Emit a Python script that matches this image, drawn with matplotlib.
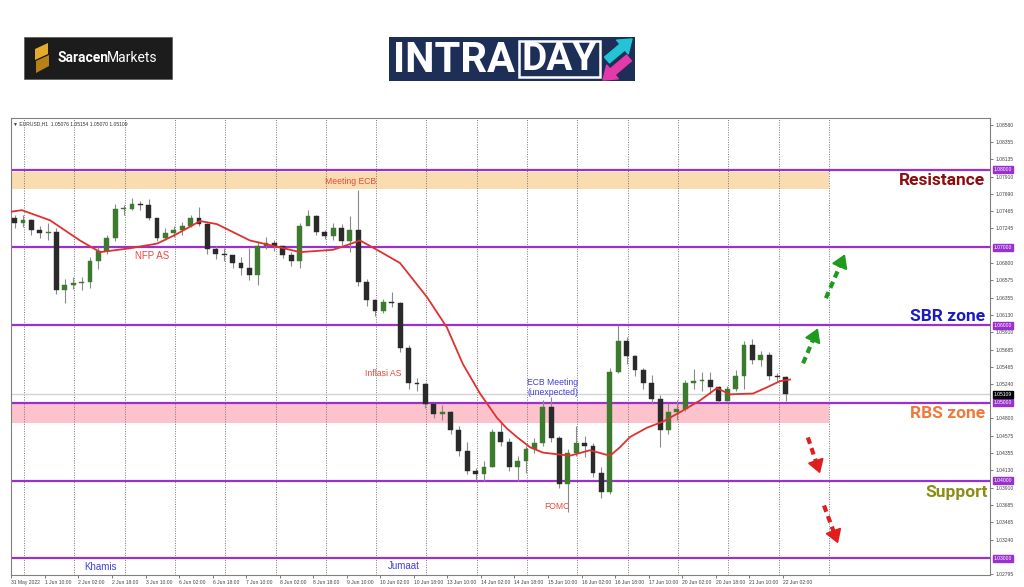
import matplotlib
matplotlib.use("Agg")
import matplotlib.pyplot as plt
import matplotlib.transforms as mtransforms
from matplotlib.patches import Rectangle, Polygon

# bar index counts hourly bars, 1 Jun 00:00 = 0, first candle starts 31 May 18:00
first_bar = -6
bars_per_candle = 4
first_open = 1.0738
closes = [1.0732, 1.0735, 1.0722, 1.0718, 1.0720, 1.0645, 1.0652, 1.0654, 1.0655, 1.0682,
          1.0695, 1.0712, 1.0750, 1.0750, 1.0756, 1.0755, 1.0738, 1.0712, 1.0718, 1.0722,
          1.0728, 1.0738, 1.0730, 1.0698, 1.0692, 1.0690, 1.0680, 1.0674, 1.0665, 1.0702,
          1.0706, 1.0702, 1.0690, 1.0682, 1.0728, 1.0740, 1.0720, 1.0715, 1.0725, 1.0708,
          1.0722, 1.0655, 1.0632, 1.0618, 1.0630, 1.0628, 1.0570, 1.0525, 1.0524, 1.0498,
          1.0486, 1.0488, 1.0465, 1.0438, 1.0412, 1.0408, 1.0418, 1.0462, 1.0450, 1.0418,
          1.0425, 1.0440, 1.0448, 1.0495, 1.0455, 1.0395, 1.0435, 1.0448, 1.0445, 1.0410,
          1.0385, 1.0540, 1.0580, 1.0560, 1.0542, 1.0525, 1.0505, 1.0465, 1.0488, 1.0492,
          1.0525, 1.0528, 1.0530, 1.0520, 1.0503, 1.0518, 1.0535, 1.0575, 1.0555, 1.0562,
          1.0535, 1.0533, 1.05109]
highs = [1.0742, 1.0742, 1.0737, 1.0728, 1.0732, 1.0725, 1.0660, 1.0662, 1.0662, 1.0688,
         1.0700, 1.0716, 1.0756, 1.0755, 1.0764, 1.0760, 1.0762, 1.0738, 1.0725, 1.0727,
         1.0733, 1.0742, 1.0752, 1.0732, 1.0702, 1.0699, 1.0690, 1.0688, 1.0699, 1.0708,
         1.0713, 1.0710, 1.0702, 1.0694, 1.0732, 1.0748, 1.0742, 1.0722, 1.0732, 1.0730,
         1.0740, 1.0774, 1.0660, 1.0634, 1.0634, 1.0643, 1.0630, 1.0575, 1.0532, 1.0525,
         1.0500, 1.0497, 1.0490, 1.0470, 1.0450, 1.0416, 1.0425, 1.0467, 1.0474, 1.0455,
         1.0432, 1.0445, 1.0455, 1.0504, 1.0508, 1.0458, 1.0440, 1.0470, 1.0458, 1.0448,
         1.0418, 1.0545, 1.0600, 1.0585, 1.0562, 1.0545, 1.0536, 1.0510, 1.0500, 1.0504,
         1.0530, 1.0543, 1.0540, 1.0540, 1.0522, 1.0522, 1.0542, 1.0580, 1.0582, 1.0567,
         1.0565, 1.0538, 1.0535]
lows = [1.0725, 1.0726, 1.0716, 1.0712, 1.0710, 1.0640, 1.0628, 1.0646, 1.0645, 1.0648,
        1.0672, 1.0692, 1.0708, 1.0742, 1.0748, 1.0748, 1.0735, 1.0708, 1.0710, 1.0713,
        1.0716, 1.0726, 1.0728, 1.0692, 1.0685, 1.0683, 1.0674, 1.0665, 1.0658, 1.0652,
        1.0698, 1.0696, 1.0686, 1.0676, 1.0673, 1.0730, 1.0716, 1.0711, 1.0710, 1.0703,
        1.0694, 1.0650, 1.0625, 1.0612, 1.0616, 1.0624, 1.0565, 1.0518, 1.0515, 1.0494,
        1.0480, 1.0478, 1.0460, 1.0432, 1.0408, 1.0401, 1.0400, 1.0418, 1.0445, 1.0412,
        1.0400, 1.0410, 1.0435, 1.0445, 1.0450, 1.0390, 1.0360, 1.0432, 1.0430, 1.0405,
        1.0378, 1.0383, 1.0538, 1.0550, 1.0535, 1.0518, 1.0498, 1.0443, 1.0460, 1.0478,
        1.0490, 1.0518, 1.0515, 1.0512, 1.0500, 1.0502, 1.0515, 1.0518, 1.0550, 1.0548,
        1.0530, 1.0528, 1.0503]
opens = [first_open] + closes[:-1]

# red moving average (hourly bar index, price)
ma_bar = [-6.2, -1.0, 12.4, 26.7, 36.3, 50.6, 63.5, 72.0, 84.0, 92.1, 107.8, 120.7, 131.7,
          147.4, 154.1, 160.3, 168.4, 179.4, 192.3, 201.8, 209.4, 217.6, 225.6, 230.4, 235.2,
          241.4, 247.6, 260.5, 270.0, 279.6, 284.4, 289.1, 297.2, 304.9, 313.0, 322.5, 330.6,
          336.8, 347.8, 354.5, 360.7, 365.5]
ma_val = [1.0746, 1.0748, 1.0735, 1.0709, 1.0694, 1.0699, 1.0705, 1.0716, 1.0734, 1.0730,
          1.0709, 1.0701, 1.0694, 1.0697, 1.0703, 1.0709, 1.0697, 1.0680, 1.0636, 1.0597,
          1.0550, 1.0512, 1.0481, 1.0467, 1.0456, 1.0443, 1.0436, 1.0432, 1.0439, 1.0432,
          1.0443, 1.0456, 1.0468, 1.0476, 1.0488, 1.0503, 1.0519, 1.0511, 1.0512, 1.0520,
          1.0528, 1.0530]

levels = [1.08, 1.07, 1.06, 1.05, 1.04, 1.03]
resistance_zone = (1.0775, 1.0797)
rbs_zone = (1.0474, 1.0499)
zone_end_bar = 384
last_price = 1.05109
day_lines = [0, 24, 48, 72, 96, 120, 144, 168, 192, 216, 240, 264, 288, 312, 336, 360, 384]

xtick_bars = [-6, 10, 26, 42, 58, 74, 90, 106, 122, 138, 154, 170, 186, 202, 218, 234, 250,
              266, 282, 298, 314, 330, 346, 362]
xtick_labels = ["31 May 2022", "1 Jun 10:00", "2 Jun 02:00", "2 Jun 18:00", "3 Jun 10:00",
                "6 Jun 02:00", "6 Jun 18:00", "7 Jun 10:00", "8 Jun 02:00", "8 Jun 18:00",
                "9 Jun 10:00", "10 Jun 02:00", "10 Jun 18:00", "13 Jun 10:00", "14 Jun 02:00",
                "14 Jun 18:00", "15 Jun 10:00", "16 Jun 02:00", "16 Jun 18:00", "17 Jun 10:00",
                "20 Jun 02:00", "20 Jun 18:00", "21 Jun 10:00", "22 Jun 02:00"]
ytick_vals = [1.08580, 1.08355, 1.08135, 1.07910, 1.07690, 1.07465, 1.07245, 1.06800,
              1.06575, 1.06355, 1.06130, 1.05910, 1.05685, 1.05465, 1.05240, 1.04800,
              1.04575, 1.04355, 1.04130, 1.03910, 1.03685, 1.03465, 1.03240, 1.02795]

purple = "#9b30d0"
up_col = "#3c7a2e"
down_col = "#2a2a2a"
wick_col = "#8a8a8a"
small = "Liberation Sans"

fig = plt.figure(figsize=(10.24, 5.87), dpi=100)
ax = fig.add_axes([11 / 1024, 12 / 587, 979 / 1024, 457 / 587])
ax.set_xlim(-6.2, 460.9)
ax.set_ylim(1.027848, 1.086662)

# zones
ax.fill_between([-6.2, zone_end_bar], resistance_zone[0], resistance_zone[1], color="#f9dcb0", lw=0, zorder=1)
ax.fill_between([-6.2, zone_end_bar], rbs_zone[0], rbs_zone[1], color="#fcc3cc", lw=0, zorder=1)

for d in day_lines:
    ax.axvline(d, color="#777777", ls=(0, (1, 1.5)), lw=0.7, zorder=1.5)

ax.axhline(last_price, color="#d4d4d4", lw=1.0, zorder=1.6)
for lv in levels:
    ax.axhline(lv, color=purple, lw=1.6, zorder=2)

# candles
xs = [first_bar + i * bars_per_candle + 1.5 for i in range(len(closes))]
bottoms = [min(o, c) for o, c in zip(opens, closes)]
heights = [max(abs(c - o), 0.00005) for o, c in zip(opens, closes)]
colors = [up_col if c >= o else down_col for o, c in zip(opens, closes)]
ax.vlines(xs, lows, highs, color=wick_col, lw=0.8, zorder=3)
ax.bar(xs, heights, bottom=bottoms, width=2.3, color=colors, edgecolor=colors, lw=0.3, zorder=4)

ax.plot(ma_bar, ma_val, color="#e03030", lw=1.3, zorder=5)

# axes styling, MT4 look
for s in ax.spines.values():
    s.set_color("#808080")
    s.set_linewidth(0.8)
ax.yaxis.tick_right()
ax.set_yticks(ytick_vals)
ax.set_yticklabels([f"{v:.5f}" for v in ytick_vals])
ax.set_xticks(xtick_bars)
ax.set_xticklabels(xtick_labels)
for lab in ax.get_xticklabels():
    lab.set_ha("left")
ax.tick_params(axis="y", labelsize=3.6, colors="#444444", length=2, width=0.5, pad=2)
ax.tick_params(axis="x", labelsize=3.6, colors="#444444", length=2, width=0.5, pad=1.5)
for lab in ax.get_xticklabels() + ax.get_yticklabels():
    lab.set_family(small)

trans = mtransforms.blended_transform_factory(ax.transAxes, ax.transData)
for lv in levels:
    ax.text(1.004, lv, f"{lv:.5f}", transform=trans, fontsize=3.6, family=small, color="white",
            va="center", ha="left", clip_on=False, zorder=10,
            bbox=dict(boxstyle="square,pad=0.2", fc=purple, ec=purple))
ax.text(1.004, last_price, f"{last_price:.5f}", transform=trans, fontsize=3.6, family=small,
        color="white", va="center", ha="left", clip_on=False, zorder=10,
        bbox=dict(boxstyle="square,pad=0.2", fc="black", ec="black"))

ax.text(0.002, 0.992, "\u25bc EURUSD,H1  1.05076 1.05154 1.05070 1.05109", transform=ax.transAxes,
        fontsize=3.6, family=small, color="#333333", va="top", ha="left")

# event notes
red_txt = "#e8483c"
blue_txt = "#4040d8"
ax.text(156, 1.07854, "Meeting ECB", color=red_txt, fontsize=6.2, family=small, ha="center", va="center", zorder=6)
ax.text(61.1, 1.06888, "NFP AS", color=red_txt, fontsize=7, family=small, ha="center", va="center", zorder=6)
ax.text(171.3, 1.0538, "Inflasi AS", color=red_txt, fontsize=6.3, family=small, ha="center", va="center", zorder=6)
ax.text(252.4, 1.0520, "ECB Meeting\n(unexpected)", color=blue_txt, fontsize=6.2, family=small,
        ha="center", va="center", linespacing=1.1, zorder=6)
ax.text(254.3, 1.03666, "FOMC", color=red_txt, fontsize=6.2, family=small, ha="center", va="center", zorder=6)
ax.text(36.3, 1.02893, "Khamis", color=blue_txt, fontsize=7, family=small, ha="center", va="center", zorder=6)
ax.text(181.3, 1.02906, "Jumaat", color=blue_txt, fontsize=7, family=small, ha="center", va="center", zorder=6)

# zone labels on the right
big = dict(fontsize=12.5, family="Roboto", fontweight="bold", ha="right", va="center", transform=trans, zorder=7)
ax.text(0.9949, 1.07865, "Resistance", color="#8c0d0d", **big)
ax.text(0.9949, 1.06115, "SBR zone", color="#1a1ac8", **big)
ax.text(0.9949, 1.04865, "RBS zone", color="#f0783a", **big)
ax.text(0.9980, 1.03847, "Support", color="#8c8c14", **big)

# dashed scenario arrows
arrows = [
    ((382.6, 1.06347), (391.7, 1.06914), "#1e9a1e"),
    ((371.7, 1.05509), (378.8, 1.05960), "#1e9a1e"),
    ((374.0, 1.04555), (379.8, 1.04091), "#e01e1e"),
    ((381.7, 1.03679), (388.4, 1.03190), "#e01e1e"),
]
for (x0, y0), (x1, y1), col in arrows:
    xm, ym = x0 + (x1 - x0) * 0.72, y0 + (y1 - y0) * 0.72
    ax.plot([x0, xm], [y0, ym], color=col, lw=3, ls=(0, (1.6, 1.1)), solid_capstyle="butt", zorder=8)
    ax.annotate("", xy=(x1, y1), xytext=(xm, ym),
                arrowprops=dict(arrowstyle="-|>,head_length=0.8,head_width=0.5", color=col, lw=1.5,
                                shrinkA=0, shrinkB=0), zorder=8)

# logos on top, drawn in pixel coordinates
lg = fig.add_axes([0, 0, 1, 1])
lg.set_xlim(0, 1024)
lg.set_ylim(587, 0)
lg.axis("off")
lg.patch.set_visible(False)

lg.add_patch(Rectangle((24, 37), 148, 42, fc="#1c1c1c", ec="#555555", lw=0.5))
lg.add_patch(Polygon([(35, 49), (48, 43), (48, 54), (35, 60)], fc="#e3aa2c"))
lg.add_patch(Polygon([(36, 61), (49, 55), (49, 66), (36, 73)], fc="#b98019"))
lg.text(57, 58, "Saracen", color="white", fontsize=10, family="Roboto", fontweight="bold", ha="left", va="center")
lg.text(107, 58, "Markets", color="white", fontsize=10, family="Roboto", ha="left", va="center")

lg.add_patch(Rectangle((389, 37), 246, 44, fc="#1d2e57", ec="none"))
lg.text(393, 60, "INTRA", color="white", fontsize=30, family="Roboto", fontweight="bold", ha="left", va="center")
lg.add_patch(Rectangle((519, 41), 81, 36, fc="none", ec="white", lw=1.8))
lg.text(559.5, 60, "DAY", color="white", fontsize=28, family="Roboto", fontweight="bold", ha="center", va="center")
lg.annotate("", xy=(632, 39), xytext=(607, 60),
            arrowprops=dict(arrowstyle="simple,head_width=1.3,head_length=0.9,tail_width=0.55",
                            color="#22c4d6", shrinkA=0, shrinkB=0))
lg.annotate("", xy=(603, 80), xytext=(629, 58),
            arrowprops=dict(arrowstyle="simple,head_width=1.3,head_length=0.9,tail_width=0.55",
                            color="#e23aa8", shrinkA=0, shrinkB=0))

fig.savefig("out.png", dpi=100)
